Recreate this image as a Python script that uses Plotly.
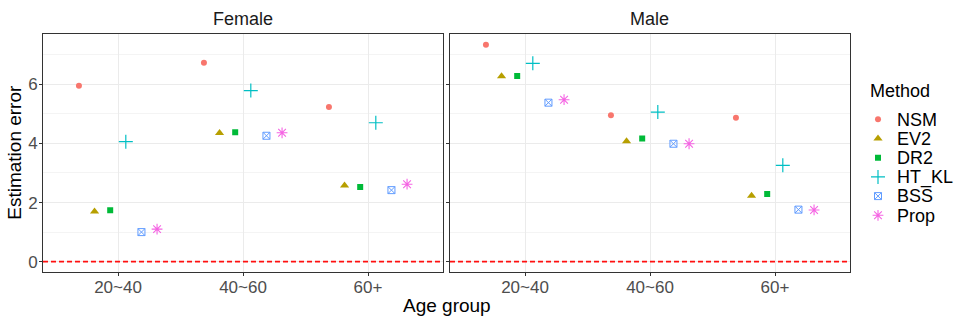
import plotly.graph_objects as go

methods = ["NSM", "EV2", "DR2", "HT_KL", "BSS", "Prop"]
age_groups = ["20~40", "40~60", "60+"]
panels = ["Female", "Male"]

female_err = {
    "NSM":   [5.95, 6.73, 5.23],
    "EV2":   [1.70, 4.35, 2.58],
    "DR2":   [1.74, 4.38, 2.53],
    "HT_KL": [4.06, 5.79, 4.70],
    "BSS":   [1.00, 4.26, 2.42],
    "Prop":  [1.10, 4.36, 2.62],
}
male_err = {
    "NSM":   [7.34, 4.95, 4.87],
    "EV2":   [6.27, 4.07, 2.23],
    "DR2":   [6.28, 4.17, 2.29],
    "HT_KL": [6.71, 5.06, 3.26],
    "BSS":   [5.38, 3.99, 1.76],
    "Prop":  [5.48, 3.99, 1.75],
}

colors = ["#F8766D", "#B79F00", "#00BA38", "#00BFC4", "#619CFF", "#F564E3"]
symbols = ["circle", "triangle-up", "square", "cross-thin-open", "square-x-open", "asterisk-open"]
sizes = [6, 8, 6, 10, 7, 9]
lwidths = [0, 0, 0, 1.2, 1.0, 1.1]

FONT = "Liberation Sans, Arial, sans-serif"
W, H = 969, 323
fig = go.Figure()

dodge = 0.75
n = len(methods)
for p_i, data in enumerate([female_err, male_err]):
    xa = "x" if p_i == 0 else "x2"
    ya = "y" if p_i == 0 else "y2"
    for m_i, m in enumerate(methods):
        off = -dodge / 2 + dodge / n * (m_i + 0.5)
        xs = [i + 1 + off for i in range(len(age_groups))]
        fig.add_trace(go.Scatter(
            x=xs, y=data[m], mode="markers", name=m,
            xaxis=xa, yaxis=ya, showlegend=False,
            marker=dict(symbol=symbols[m_i], color=colors[m_i], size=sizes[m_i],
                        line=dict(width=lwidths[m_i], color=colors[m_i])),
        ))

# legend keys drawn on their own categorical axis
for m_i, m in enumerate(methods):
    fig.add_trace(go.Scatter(
        x=[0], y=[m], mode="markers", name=m, xaxis="x3", yaxis="y3", showlegend=False,
        marker=dict(symbol=symbols[m_i], color=colors[m_i], size=sizes[m_i],
                    line=dict(width=lwidths[m_i], color=colors[m_i])),
    ))

axis_common = dict(
    range=[0.4, 3.6], tickvals=[1, 2, 3], ticktext=age_groups, automargin=False,
    showgrid=True, gridcolor="#EBEBEB", gridwidth=1.2, zeroline=False,
    showline=True, linecolor="#333333", linewidth=1, mirror=True,
    ticks="outside", ticklen=3, tickcolor="#333333", ticklabelstandoff=-3,
    tickfont=dict(family=FONT, size=17, color="#4D4D4D"),
)
yaxis_common = dict(
    range=[-0.35, 7.72], tickvals=[0, 2, 4, 6], automargin=False,
    showgrid=True, gridcolor="#EBEBEB", gridwidth=1.2, zeroline=False,
    showline=True, linecolor="#333333", linewidth=1, mirror=True,
    ticks="outside", ticklen=3, tickcolor="#333333", ticklabelstandoff=-2,
    tickfont=dict(family=FONT, size=17, color="#4D4D4D"),
    minor=dict(tickvals=[1, 3, 5, 7], showgrid=True, gridcolor="#F4F4F4", gridwidth=0.8, ticks=""),
)

x1 = [43 / W, 443 / W]
x2 = [450 / W, 850 / W]
yd = [1 - 272 / H, 1 - 33.5 / H]
leg_top, leg_bot = 109.7, 224.9

fig.update_layout(
    width=W, height=H,
    margin=dict(l=0, r=0, t=0, b=0),
    paper_bgcolor="white", plot_bgcolor="white",
    font=dict(family=FONT, color="black"),
    showlegend=False,
    xaxis=dict(domain=x1, anchor="y", **axis_common),
    xaxis2=dict(domain=x2, anchor="y2", **axis_common),
    yaxis=dict(domain=yd, anchor="x", **yaxis_common),
    yaxis2=dict(domain=yd, anchor="x2", showticklabels=False, **yaxis_common),
    xaxis3=dict(domain=[870 / W, 886 / W], anchor="y3", range=[-1, 1], visible=False, automargin=False),
    yaxis3=dict(domain=[1 - leg_bot / H, 1 - leg_top / H], anchor="x3", side="right",
                type="category", categoryorder="array", categoryarray=methods,
                tickmode="array", tickvals=methods, ticktext=methods,
                range=[5.5, -0.5], showgrid=False, zeroline=False, showline=False,
                ticks="", ticklabelstandoff=10, automargin=False,
                tickfont=dict(family=FONT, size=18, color="black")),
)

for xr, yr in [("x", "y"), ("x2", "y2")]:
    fig.add_shape(type="line", xref=f"{xr} domain", yref=yr, layer="above",
                  x0=0, x1=1, y0=0, y1=0, line=dict(color="#FF1010", width=1.6, dash="5px,3px"))

for name, dom in zip(panels, [x1, x2]):
    fig.add_annotation(text=name, x=(dom[0] + dom[1]) / 2, y=1 - 19 / H,
                       xref="paper", yref="paper", showarrow=False,
                       xanchor="center", yanchor="middle",
                       font=dict(family=FONT, size=18, color="#1A1A1A"))

fig.add_annotation(text="Method", x=868 / W, y=1 - 91 / H, xref="paper", yref="paper",
                   xanchor="left", yanchor="middle", showarrow=False,
                   font=dict(family=FONT, size=18, color="black"))
fig.add_annotation(text="Age group", x=447 / W, y=1 - 305 / H, xref="paper", yref="paper",
                   xanchor="center", yanchor="middle", showarrow=False,
                   font=dict(family=FONT, size=19, color="black"))
fig.add_annotation(text="Estimation error", x=15 / W, y=(yd[0] + yd[1]) / 2, xref="paper", yref="paper",
                   xanchor="center", yanchor="middle", showarrow=False, textangle=-90,
                   font=dict(family=FONT, size=19, color="black"))

fig.write_html("out.html", config={"displayModeBar": False},
               post_script="document.body.style.margin='0';")
